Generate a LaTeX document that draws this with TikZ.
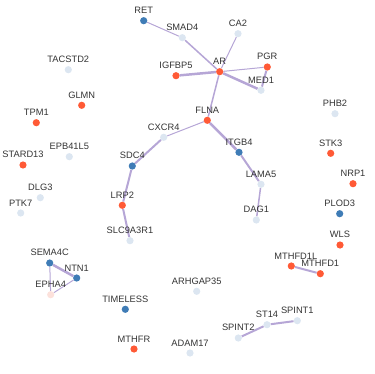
\documentclass[tikz,border=0pt]{standalone}
\usepackage{fontspec}
\setmainfont{Liberation Sans}
\usetikzlibrary{backgrounds}
\definecolor{upred}{HTML}{FF5A36}
\definecolor{downblue}{HTML}{3F7CB6}
\definecolor{nochange}{HTML}{DCE6F1}
\definecolor{lightpink}{HTML}{FCE1DB}
\definecolor{linkcol}{HTML}{B6A6D6}
\definecolor{txtgray}{HTML}{333333}
\begin{document}
\begin{tikzpicture}[x=1pt,y=-1pt,
  lbl/.style={font=\fontsize{9.3}{10}\selectfont,text=txtgray,inner sep=0pt,label distance=3pt},
  dot/.style={circle,inner sep=0pt,minimum size=7.2pt},
  gene/.style={dot,label={[lbl]90:#1}},
  up/.style={gene=#1,fill=upred},
  down/.style={gene=#1,fill=downblue},
  flat/.style={gene=#1,fill=nochange},
  link/.style={draw=linkcol,line width=#1},
  link/.default=1pt]
\useasboundingbox (0,0) rectangle (374,374);
\node[down=RET] (ret) at (143.7,20.7) {};
\node[flat=SMAD4] (smad4) at (182.3,37.7) {};
\node[flat=CA2] (ca2) at (238,33.7) {};
\node[up=IGFBP5] (igfbp5) at (176,75.7) {};
\node[up=AR] (ar) at (219.7,71.7) {};
\node[up=PGR] (pgr) at (267.3,67) {};
\node[flat=MED1] (med1) at (261,90.3) {};
\node[flat=TACSTD2] (tacstd2) at (68.3,69.7) {};
\node[up=GLMN] (glmn) at (81.7,105.3) {};
\node[up=TPM1] (tpm1) at (36.3,122.7) {};
\node[flat=PHB2] (phb2) at (335,113.7) {};
\node[up=FLNA] (flna) at (207.3,120.3) {};
\node[flat=CXCR4] (cxcr4) at (163.7,137.3) {};
\node[down=ITGB4] (itgb4) at (239,152.3) {};
\node[up=STK3] (stk3) at (330.7,153.3) {};
\node[flat=EPB41L5] (epb41l5) at (69.3,156.7) {};
\node[up=STARD13] (stard13) at (23,165) {};
\node[down=SDC4] (sdc4) at (132.3,166) {};
\node[up=NRP1] (nrp1) at (353,183.7) {};
\node[flat=LAMA5] (lama5) at (261,184.3) {};
\node[flat=DLG3] (dlg3) at (40.3,197.7) {};
\node[flat=PTK7] (ptk7) at (20.7,213) {};
\node[up=LRP2] (lrp2) at (122.3,205.3) {};
\node[down=PLOD3] (plod3) at (339.7,213.7) {};
\node[flat=DAG1] (dag1) at (256.3,220) {};
\node[flat=SLC9A3R1] (slc9a3r1) at (130,240.7) {};
\node[up=WLS] (wls) at (340,245) {};
\node[down=SEMA4C] (sema4c) at (49.7,263) {};
\node[dot,fill=upred,label={[lbl,xshift=4.5pt]90:MTHFD1L}] (mthfd1l) at (291.3,266) {};
\node[up=MTHFD1] (mthfd1) at (320.3,273.7) {};
\node[down=NTN1] (ntn1) at (76.7,278) {};
\node[flat=ARHGAP35] (arhgap35) at (196.7,291.3) {};
\node[gene=EPHA4,fill=lightpink] (epha4) at (50.7,294.7) {};
\node[down=TIMELESS] (timeless) at (125.3,309.3) {};
\node[flat=SPINT1] (spint1) at (297.3,320.7) {};
\node[flat=ST14] (st14) at (267,324.7) {};
\node[flat=SPINT2] (spint2) at (238.3,338) {};
\node[up=MTHFR] (mthfr) at (134,349) {};
\node[flat=ADAM17] (adam17) at (190,353) {};
\begin{scope}[on background layer]
\draw[link] (ret) -- (smad4);
\draw[link=1.5pt] (smad4) -- (ar);
\draw[link] (ca2) -- (ar);
\draw[link=2.5pt] (igfbp5) -- (ar);
\draw[link] (ar) -- (pgr);
\draw[link=2.5pt] (ar) -- (med1);
\draw[link=2pt] (pgr) -- (med1);
\draw[link=1.5pt] (ar) -- (flna);
\draw[link] (flna) -- (cxcr4);
\draw[link=2.5pt] (flna) -- (itgb4);
\draw[link=2pt] (itgb4) -- (lama5);
\draw[link=1.5pt] (lama5) -- (dag1);
\draw[link=2pt] (cxcr4) -- (sdc4);
\draw[link=2pt] (sdc4) -- (lrp2);
\draw[link=2pt] (lrp2) -- (slc9a3r1);
\draw[link=2.5pt] (sema4c) -- (ntn1);
\draw[link] (sema4c) -- (epha4);
\draw[link] (ntn1) -- (epha4);
\draw[link=2pt] (mthfd1l) -- (mthfd1);
\draw[link=2pt] (st14) -- (spint1);
\draw[link=2pt] (st14) -- (spint2);
\end{scope}
\end{tikzpicture}
\end{document}
